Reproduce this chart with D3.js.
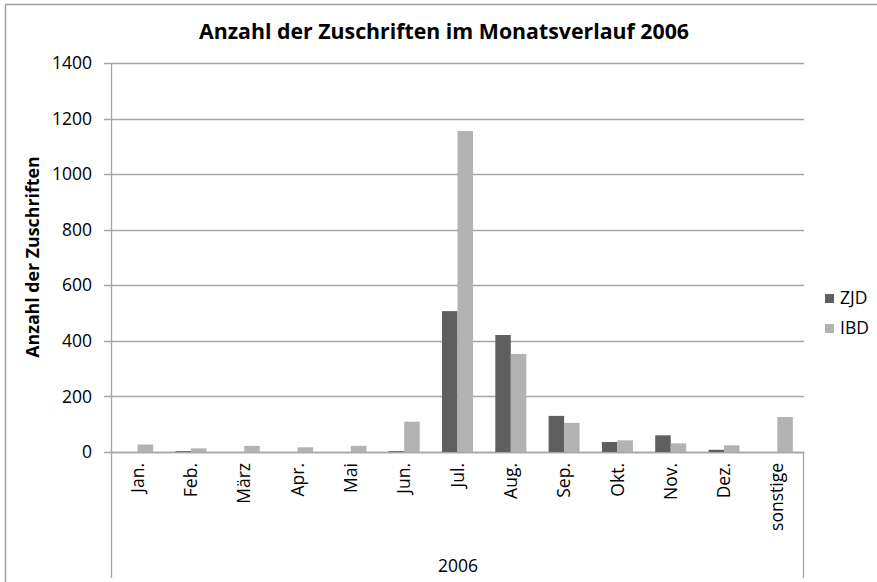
<!DOCTYPE html>
<html>
<head>
<meta charset="utf-8">
<script src="https://cdn.jsdelivr.net/npm/d3@7"></script>
<style>
body { margin: 0; background: #fff; }
text { font-family: "Open Sans", sans-serif; fill: #000; }
</style>
</head>
<body>
<div id="chart"></div>
<script>
// data
var months = ["Jan.", "Feb.", "März", "Apr.", "Mai", "Jun.", "Jul.", "Aug.", "Sep.", "Okt.", "Nov.", "Dez.", "sonstige"];
var zjd = [0, 3, 0, 0, 0, 3, 507, 421, 130, 36, 60, 8, 0];
var ibd = [27, 13, 22, 17, 22, 109, 1155, 353, 105, 42, 31, 24, 126];
var seriesNames = ["ZJD", "IBD"];
var colors = ["#5f5f5f", "#b2b2b2"];
var yTicks = [0, 200, 400, 600, 800, 1000, 1200, 1400];

var W = 877, H = 582;
var plotLeft = 111, plotRight = 804, plotTop = 63, plotBottom = 452;
var fs = "17.5px";

var svg = d3.select("#chart").append("svg").attr("width", W).attr("height", H);

// outer frame
svg.append("path")
    .attr("d", "M5.5," + H + "V4.5H" + W)
    .attr("fill", "none").attr("stroke", "#a0a0a0").attr("stroke-width", 1.5);

var x = d3.scaleBand().domain(months).range([plotLeft, plotRight]);
var x1 = d3.scaleBand().domain(seriesNames).range([0, 31]);
var y = d3.scaleLinear().domain([0, 1400]).range([plotBottom, plotTop]);

// gridlines
svg.append("g").selectAll("line").data(yTicks).enter().append("line")
    .attr("x1", plotLeft - 7).attr("x2", plotRight)
    .attr("y1", function(d) { return Math.round(y(d)) + 0.5; })
    .attr("y2", function(d) { return Math.round(y(d)) + 0.5; })
    .attr("stroke", "#a6a6a6").attr("stroke-width", 1.3);

// y axis labels
svg.append("g").selectAll("text").data(yTicks).enter().append("text")
    .attr("x", 92).attr("y", function(d) { return y(d); })
    .attr("dy", "0.35em").attr("text-anchor", "end")
    .style("font-size", fs)
    .text(function(d) { return d; });

// axis lines + category box
svg.append("path")
    .attr("d", "M" + (plotLeft + 0.5) + "," + plotTop + "V" + 578 +
               "M" + plotLeft + "," + (plotBottom + 0.5) + "H" + (plotRight + 0.5) +
               "M" + (plotRight - 0.5) + "," + plotBottom + "V" + 578)
    .attr("fill", "none").attr("stroke", "#a6a6a6").attr("stroke-width", 1.3);

// bars
var rows = months.map(function(m, i) { return {m: m, v: [zjd[i], ibd[i]]}; });
var grp = svg.append("g").selectAll("g").data(rows).enter().append("g")
    .attr("transform", function(d) { return "translate(" + (x(d.m) + (x.bandwidth() - 31) / 2) + ",0)"; });
grp.selectAll("rect").data(function(d) { return d.v; }).enter().append("rect")
    .attr("x", function(d, i) { return x1(seriesNames[i]); })
    .attr("width", x1.bandwidth())
    .attr("y", function(d) { return y(d); })
    .attr("height", function(d) { return y(0) - y(d); })
    .attr("fill", function(d, i) { return colors[i]; });

// category labels
svg.append("g").selectAll("text").data(months).enter().append("text")
    .attr("transform", function(d) { return "translate(" + (x(d) + x.bandwidth() / 2) + ",463) rotate(-90)"; })
    .attr("dy", "0.35em").attr("text-anchor", "end")
    .style("font-size", fs)
    .text(function(d) { return d; });

svg.append("text").attr("x", 458).attr("y", 572).attr("text-anchor", "middle")
    .style("font-size", fs).text("2006");

// title
svg.append("text").attr("x", 444).attr("y", 39).attr("text-anchor", "middle")
    .style("font-size", "21.3px").style("font-weight", "bold")
    .text("Anzahl der Zuschriften im Monatsverlauf 2006");

// y title
svg.append("text").attr("transform", "translate(39,257) rotate(-90)")
    .attr("text-anchor", "middle")
    .style("font-size", "17.8px").style("font-weight", "bold")
    .text("Anzahl der Zuschriften");

// legend
var leg = svg.append("g").selectAll("g").data(seriesNames).enter().append("g")
    .attr("transform", function(d, i) { return "translate(825," + (298 + i * 30) + ")"; });
leg.append("rect").attr("x", 0).attr("y", -4).attr("width", 9).attr("height", 9)
    .attr("fill", function(d, i) { return colors[i]; });
leg.append("text").attr("x", 15).attr("dy", "0.35em")
    .style("font-size", fs).text(function(d) { return d; });
</script>
</body>
</html>
